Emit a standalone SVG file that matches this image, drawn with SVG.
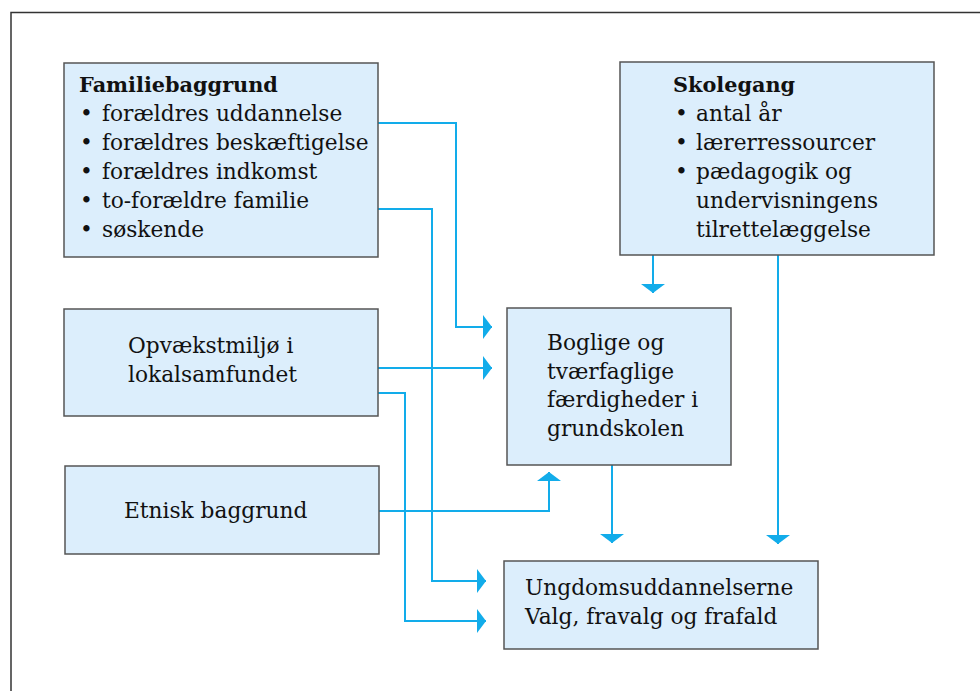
<svg xmlns="http://www.w3.org/2000/svg" width="980" height="691" viewBox="0 0 980 691">
<style>
.box{fill:#DCEEFC;stroke:#555;stroke-width:1.5}
text{font-family:"DejaVu Serif","Liberation Serif",serif;font-size:21.7px;fill:#111}
.b{font-weight:bold;font-size:20.8px}
.c{fill:none;stroke:#12ACEA;stroke-width:2;marker-end:url(#ah)}
</style>
<defs>
<marker id="ah" markerUnits="userSpaceOnUse" markerWidth="10" markerHeight="26" refX="9" refY="13" orient="auto">
<path d="M0,1 L9,13 L0,25 Z" fill="#12ACEA"/>
</marker>
</defs>
<rect width="980" height="691" fill="#fff"/>
<path d="M11,691 V12.5 H980" fill="none" stroke="#333" stroke-width="1.5"/>
<g id="connectors">
<path class="c" d="M378,123 H456 V327 H492"/>
<path class="c" d="M378,209 H432 V581 H486"/>
<path class="c" d="M378,368 H492"/>
<path class="c" d="M378,393 H405 V621 H486"/>
<path class="c" d="M379,511 H549 V472"/>
<path class="c" d="M653,255 V293"/>
<path class="c" d="M778,255 V544"/>
<path class="c" d="M612,465 V543"/>
</g>
<g id="familiebaggrund">
<rect class="box" x="64" y="63" width="314" height="194"/>
<text class="b" x="79" y="92">Familiebaggrund</text>
<text x="80" y="121">•</text><text x="102" y="121">forældres uddannelse</text>
<text x="80" y="150">•</text><text x="102" y="150">forældres beskæftigelse</text>
<text x="80" y="179">•</text><text x="102" y="179">forældres indkomst</text>
<text x="80" y="208">•</text><text x="102" y="208">to-forældre familie</text>
<text x="80" y="237">•</text><text x="102" y="237">søskende</text>
</g>
<g id="skolegang">
<rect class="box" x="620" y="62" width="314" height="193"/>
<text class="b" x="673" y="92">Skolegang</text>
<text x="675" y="121">•</text><text x="696" y="121">antal år</text>
<text x="675" y="150">•</text><text x="696" y="150">lærerressourcer</text>
<text x="675" y="179">•</text><text x="696" y="179">pædagogik og</text>
<text x="696" y="208">undervisningens</text>
<text x="696" y="237">tilrettelæggelse</text>
</g>
<g id="opvaekst">
<rect class="box" x="64" y="309" width="314" height="107"/>
<text x="128" y="353">Opvækstmiljø i</text>
<text x="128" y="382">lokalsamfundet</text>
</g>
<g id="etnisk">
<rect class="box" x="65" y="466" width="314" height="88"/>
<text x="124" y="518">Etnisk baggrund</text>
</g>
<g id="boglige">
<rect class="box" x="507" y="308" width="224" height="157"/>
<text x="547" y="350">Boglige og</text>
<text x="547" y="378.5">tværfaglige</text>
<text x="547" y="407">færdigheder i</text>
<text x="547" y="435.5">grundskolen</text>
</g>
<g id="ungdom">
<rect class="box" x="504" y="561" width="314" height="88"/>
<text x="525" y="595">Ungdomsuddannelserne</text>
<text x="525" y="624">Valg, fravalg og frafald</text>
</g>
</svg>
